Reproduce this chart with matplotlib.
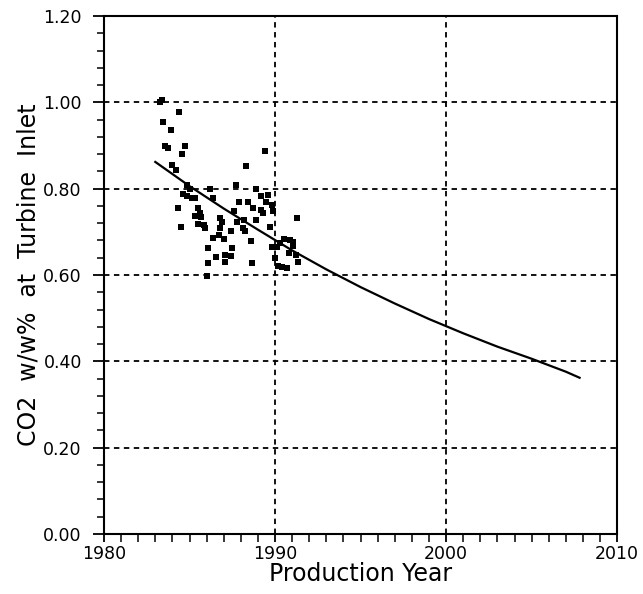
import matplotlib
matplotlib.use("Agg")
import matplotlib.pyplot as plt
from matplotlib.ticker import MultipleLocator, FormatStrFormatter

# scatter of measured points (production year, CO2 w/w %)
point_years = [
    1983.27, 1983.4, 1984.4, 1983.45, 1983.9, 1983.57, 1983.74, 1984.74, 1984.56,
    1984.0, 1984.2, 1984.85, 1985.0, 1986.2, 1987.7,
    1984.6, 1984.85, 1985.15, 1985.3, 1986.4, 1984.3, 1985.5, 1987.9,
    1985.6, 1985.7, 1985.3, 1987.6, 1986.8, 1986.9, 1987.8, 1985.5,
    1985.85, 1985.9, 1984.5, 1986.8, 1987.4, 1988.1, 1986.7, 1986.4,
    1987.0, 1986.1, 1987.5, 1986.55, 1987.1, 1987.4, 1986.1, 1987.1, 1986.0,
    1989.4, 1988.3, 1988.9, 1989.2, 1989.6, 1988.4, 1989.5, 1989.8,
    1988.7, 1989.2, 1989.3, 1989.9, 1988.9, 1988.2, 1988.25, 1989.7, 1991.3,
    1988.6, 1990.5, 1990.9, 1991.05, 1990.3, 1990.1, 1989.8, 1991.05,
    1990.8, 1991.2, 1991.35, 1990.0, 1990.2, 1990.4, 1990.7, 1988.65,
]
point_values = [
    1.000, 1.005, 0.977, 0.954, 0.936, 0.900, 0.894, 0.900, 0.880,
    0.855, 0.843, 0.808, 0.800, 0.800, 0.808,
    0.788, 0.783, 0.778, 0.778, 0.778, 0.755, 0.755, 0.769,
    0.744, 0.734, 0.737, 0.748, 0.732, 0.723, 0.723, 0.718,
    0.716, 0.709, 0.711, 0.709, 0.702, 0.709, 0.693, 0.686,
    0.683, 0.662, 0.662, 0.642, 0.646, 0.644, 0.628, 0.630, 0.598,
    0.887, 0.852, 0.800, 0.783, 0.785, 0.769, 0.769, 0.762,
    0.755, 0.750, 0.744, 0.748, 0.727, 0.727, 0.702, 0.711, 0.732,
    0.679, 0.683, 0.681, 0.676, 0.674, 0.665, 0.665, 0.667,
    0.651, 0.646, 0.630, 0.639, 0.621, 0.618, 0.616, 0.628,
]

# trend curve
curve_years = [1983, 1985, 1987, 1989, 1991, 1993, 1995, 1997, 1999, 2001,
               2003, 2005, 2007, 2007.8]
curve_values = [0.862, 0.806, 0.754, 0.705, 0.657, 0.613, 0.572, 0.534,
                0.498, 0.465, 0.434, 0.406, 0.376, 0.362]

x_ticks = [1980, 1990, 2000, 2010]
y_ticks = [0.0, 0.2, 0.4, 0.6, 0.8, 1.0, 1.2]


def main() -> None:
    plt.rcParams["font.family"] = ["DejaVu Sans"]
    fig = plt.figure(figsize=(6.43, 5.94), dpi=100)
    ax = fig.add_axes([0.1617, 0.101, 0.7982, 0.872])

    ax.set_xlim(1980, 2010)
    ax.set_ylim(0.0, 1.2)

    # dashed interior grid
    for y in y_ticks[1:-1]:
        ax.axhline(y, color="black", linestyle=(0, (3, 2.5)), linewidth=1.3)
    for x in x_ticks[1:-1]:
        ax.axvline(x, color="black", linestyle=(0, (3, 2.5)), linewidth=1.3)

    ax.scatter(point_years, point_values, marker="s", s=14, color="black",
               linewidths=0, zorder=3)
    ax.plot(curve_years, curve_values, color="black", linewidth=1.6, zorder=3,
            solid_joinstyle="round")

    ax.set_xticks(x_ticks)
    ax.set_yticks(y_ticks)
    ax.xaxis.set_minor_locator(MultipleLocator(1))
    ax.yaxis.set_minor_locator(MultipleLocator(0.04))
    ax.yaxis.set_major_formatter(FormatStrFormatter("%.2f"))
    ax.tick_params(which="major", direction="out", length=8, width=1.3,
                   labelsize=12.5, colors="black")
    ax.tick_params(which="minor", direction="out", length=5, width=1.1)
    ax.tick_params(axis="x", which="both", length=6)
    ax.tick_params(axis="y", pad=8)
    ax.tick_params(axis="x", pad=2)

    for spine in ax.spines.values():
        spine.set_linewidth(1.5)

    ax.set_xlabel("Production Year", fontsize=17, labelpad=-1)
    ax.set_ylabel("CO2  w/w%  at  Turbine  Inlet", fontsize=17, labelpad=2)

    fig.savefig("out.png", dpi=100)
    plt.close(fig)


if __name__ == "__main__":
    main()
